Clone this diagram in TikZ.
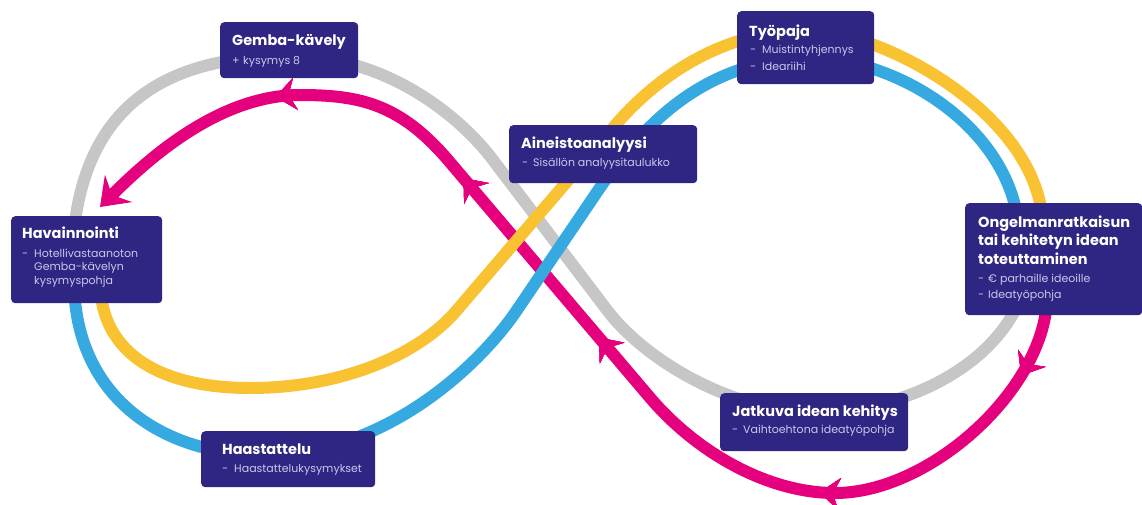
\documentclass[tikz,border=0pt]{standalone}
\usepackage{fontspec}
\setmainfont{Poppins}
\usetikzlibrary{arrows.meta,decorations.markings}
\definecolor{panelblue}{HTML}{2F2582}
\definecolor{sublav}{HTML}{CBC7EC}
\definecolor{loopgray}{HTML}{C6C6C6}
\definecolor{loopmagenta}{HTML}{E5007D}
\definecolor{loopyellow}{HTML}{F9C232}
\definecolor{loopblue}{HTML}{36A9E1}
\newcommand{\ttlfont}{\fontsize{14.5}{18.5}\selectfont\bfseries}
\newcommand{\itemfont}{\fontsize{11}{13.5}\selectfont}

\begin{document}
\begin{tikzpicture}[x=1pt,y=-1pt,
  strand/.style={line width=12pt, line join=round},
  panel/.style={fill=panelblue, rounded corners=4pt, anchor=north west, inner sep=0pt},
  ttl/.style={text=white, font=\ttlfont, anchor=base west, inner sep=0pt},
  item/.style={text=sublav, font=\itemfont, anchor=base west, inner sep=0pt},
  flowtip/.style={decoration={markings,
      mark=at position #1 with {\arrow{Stealth[length=20pt,width=32pt,inset=7pt]}}},
    postaction={decorate}}]
\useasboundingbox (0,0) rectangle (1142,504);

%% loops %%%%%%%%
% gray: left top outside, right bottom inside
\draw[strand, loopgray] (72,270) .. controls (72,110) and (160,56) .. (290,56)
  .. controls (390,56) and (463,120) .. (493,160) -- (607,310)
  .. controls (643,358) and (730,412) .. (815,412)
  .. controls (900,412) and (990,370) .. (1020,300);
% magenta, with the flow arrows
\draw[strand, loopmagenta, -{Stealth[length=26pt,width=38pt,inset=9pt]},
  flowtip=0.065, flowtip=0.262, flowtip=0.486, flowtip=0.655, flowtip=0.83]
  (1047,300) .. controls (1043,390) and (930,493) .. (835,493)
  .. controls (770,493) and (700,455) .. (652,400) -- (448,160)
  .. controls (400,104) and (360,95) .. (300,95)
  .. controls (220,95) and (150,157) .. (100,207);
% blue: left bottom outside, right top inside
\draw[strand, loopblue] (74,280) .. controls (74,395) and (160,455) .. (265,455)
  .. controls (385,455) and (480,365) .. (517,310) -- (595,195)
  .. controls (640,128) and (700,62) .. (805,58)
  .. controls (890,56) and (1000,120) .. (1017,215);
% yellow: left bottom inside, right top outside
\draw[strand, loopyellow] (100,280) .. controls (100,360) and (170,388) .. (250,388)
  .. controls (340,388) and (418,356) .. (457,310) -- (618,122)
  .. controls (658,77) and (720,32) .. (805,30)
  .. controls (880,30) and (1030,110) .. (1042,215);

%% panels %%%%%%%%
\node[panel, minimum width=151pt, minimum height=87pt] (havpanel) at (11,216) {};
\node[panel, minimum width=138pt, minimum height=56pt] (gembapanel) at (220,22) {};
\node[panel, minimum width=188pt, minimum height=58pt] (ainpanel) at (509,125) {};
\node[panel, minimum width=137pt, minimum height=73pt] (tyopanel) at (737,11) {};
\node[panel, minimum width=177pt, minimum height=112pt] (ongpanel) at (965,203) {};
\node[panel, minimum width=188pt, minimum height=58pt] (jatpanel) at (720,393) {};
\node[panel, minimum width=174pt, minimum height=56pt] (haapanel) at (201,431) {};

%% texts %%%%%%%%
\node[ttl] (havttl) at (22,238) {Havainnointi};
\node[item] (havdash) at (22,257) {-};
\node[item] (havitema) at (34,257) {Hotellivastaanoton};
\node[item] (havitemb) at (34,270.5) {Gemba-kävelyn};
\node[item] (havitemc) at (34,284) {kysymyspohja};

\node[ttl] (gembattl) at (232,45) {Gemba-kävely};
\node[item] (gembaplus) at (232,64) {+};
\node[item] (gembaitem) at (243,64) {kysymys 8};

\node[ttl] (ainttl) at (521,148) {Aineistoanalyysi};
\node[item] (aindash) at (522,166) {-};
\node[item] (ainitem) at (533,166) {Sisällön analyysitaulukko};

\node[ttl] (tyottl) at (749,36) {Työpaja};
\node[item] (tyodasha) at (750,53) {-};
\node[item] (tyoitema) at (762,53) {Muistintyhjennys};
\node[item] (tyodashb) at (750,70) {-};
\node[item] (tyoitemb) at (762,70) {Ideariihi};

\node[ttl] (ongttla) at (978,227) {Ongelmanratkaisun};
\node[ttl] (ongttlb) at (978,245.5) {tai kehitetyn idean};
\node[ttl] (ongttlc) at (978,264) {toteuttaminen};
\node[item] (ongdasha) at (978,282) {-};
\node[item] (ongitema) at (988,282) {€ parhaille ideoille};
\node[item] (ongdashb) at (978,298) {-};
\node[item] (ongitemb) at (988,298) {Ideatyöpohja};

\node[ttl] (jatttl) at (732,416) {Jatkuva idean kehitys};
\node[item] (jatdash) at (732,433) {-};
\node[item] (jatitem) at (743,433) {Vaihtoehtona ideatyöpohja};

\node[ttl] (haattl) at (222,454) {Haastattelu};
\node[item] (haadash) at (222,472) {-};
\node[item] (haaitem) at (234,472) {Haastattelukysymykset};
%%%%%%%%%%%%%%%
\end{tikzpicture}
\end{document}
